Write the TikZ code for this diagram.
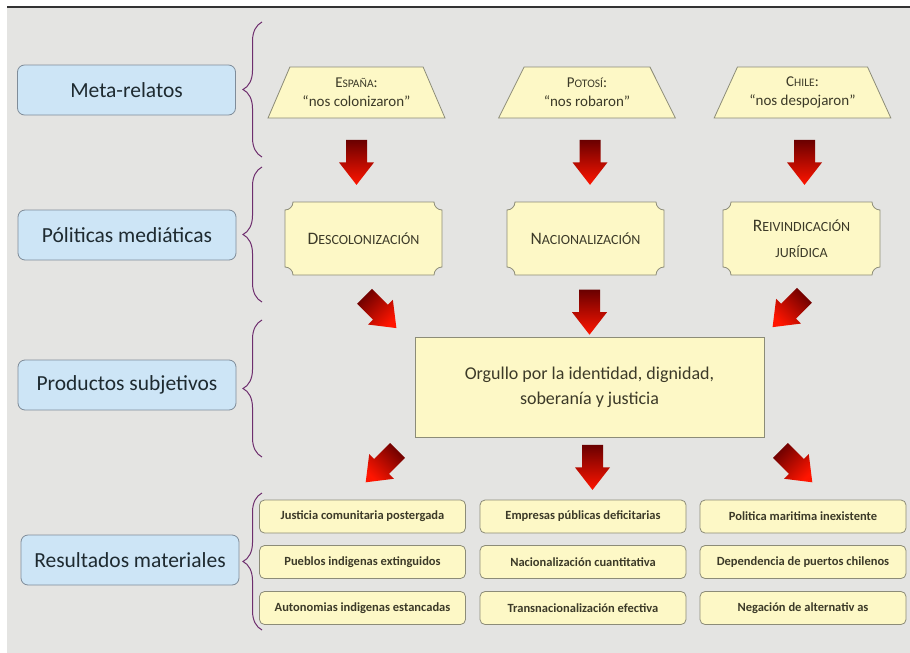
\documentclass[tikz,border=0pt]{standalone}
\usepackage{fontspec}
\setmainfont{Carlito}
\usetikzlibrary{arrows.meta,positioning,calc}
\usetikzlibrary{shapes.geometric}
\usetikzlibrary{decorations.pathreplacing}

\definecolor{bggray}{HTML}{E4E4E2}
\definecolor{labelblue}{HTML}{CDE5F6}
\definecolor{labeledge}{HTML}{7F8C99}
\definecolor{boxcream}{HTML}{FDF8C6}
\definecolor{boxedge}{HTML}{8C8C78}
\definecolor{bracepurple}{HTML}{6E2E6E}
\definecolor{arrowdark}{HTML}{6A0000}
\definecolor{arrowred}{HTML}{FF1500}
\definecolor{textdark}{HTML}{1E2A30}
\definecolor{textolive}{HTML}{3C3A28}

% small caps made by hand: first letter, then smaller capitals
\newcommand{\smcaps}[3][11.5]{#2{\fontsize{#1}{#1}\selectfont #3}}

\begin{document}
\begin{tikzpicture}[x=1pt, y=-1pt,
    levelbox/.style={draw=labeledge, fill=labelblue, rounded corners=7pt, line width=0.8pt,
        minimum width=218pt, minimum height=50pt, font=\fontsize{21.5}{24}\selectfont, text=textdark},
    claimbox/.style={trapezium, trapezium stretches=true, trapezium left angle=62,
        trapezium right angle=62, draw=boxedge, fill=boxcream, line width=0.8pt,
        minimum width=177pt, minimum height=51pt, align=center,
        font=\fontsize{15}{19}\selectfont, text=textolive},
    plaquetext/.style={minimum width=157pt, minimum height=73pt, align=center,
        font=\fontsize{17.5}{26}\selectfont, text=textolive},
    pridebox/.style={draw=boxedge, fill=boxcream, line width=0.8pt, minimum width=349pt,
        minimum height=100pt, align=center, font=\fontsize{18}{25}\selectfont, text=textolive},
    resultbox/.style={draw=boxedge, fill=boxcream, rounded corners=5pt, line width=0.8pt,
        minimum width=206pt, minimum height=33pt, font=\bfseries\fontsize{12.5}{14}\selectfont,
        text=textolive},
    bracket/.style={draw=bracepurple, line width=1pt, decorate,
        decoration={brace, amplitude=19pt}}
]

% Canvas
\useasboundingbox (0,0) rectangle (910,653);
\fill[white] (0,0) rectangle (910,653);
\fill[bggray] (7,8) rectangle (910,653);
\draw[line width=1.5pt, black!80] (7,7) -- (910,7);

% Macro: plaque with concave corners
\newcommand{\plaque}[4]{
\begin{scope}[shift={(#2,#3)}]
    \filldraw[draw=boxedge, fill=boxcream, line width=0.8pt]
        (-70.5,-36.5) -- (70.5,-36.5) .. controls (70.5,-32.1) and (74.1,-28.5) .. (78.5,-28.5)
        -- (78.5,28.5) .. controls (74.1,28.5) and (70.5,32.1) .. (70.5,36.5)
        -- (-70.5,36.5) .. controls (-70.5,32.1) and (-74.1,28.5) .. (-78.5,28.5)
        -- (-78.5,-28.5) .. controls (-74.1,-28.5) and (-70.5,-32.1) .. cycle;
\end{scope}
\node[plaquetext] (#1) at (#2,#3) {#4};
}

% Macro: shaded block arrow (position, rotation)
\newcommand{\flecha}[2]{
\begin{scope}[shift={#1}, rotate=#2]
    \shade[top color=arrowdark, bottom color=arrowred, shading angle=#2]
        (-10.5,-22.5) -- (10.5,-22.5) -- (10.5,0) -- (17.5,0) -- (0,22.5)
        -- (-17.5,0) -- (-10.5,0) -- cycle;
\end{scope}
}

% Levels on the left
\node[levelbox] (meta) at (126.5,90) {Meta-relatos};
\node[levelbox] (pol) at (127,235) {Póliticas mediáticas};
\node[levelbox] (prod) at (127,385) {Productos subjetivos};
\node[levelbox] (res) at (130,560) {Resultados materiales};

% Braces
\foreach \ya/\yb in {22/157, 167/302, 320/457, 493/630}
    \draw[bracket] (262,\yb) -- (262,\ya);

% Meta-relatos
\node[claimbox] (esp) at (356.5,92.5) {\smcaps{E}{SPAÑA}:\\“nos colonizaron”};
\node[claimbox] (pot) at (587,92.5) {\smcaps{P}{OTOSÍ}:\\“nos robaron”};
\node[claimbox] (chi) at (802.5,92.5) {\smcaps{C}{HILE}:\\“nos despojaron”};

% Politicas
\plaque{desc}{363.5}{238.5}{\smcaps[14]{D}{ESCOLONIZACIÓN}}
\plaque{nac}{585.5}{238.5}{\smcaps[14]{N}{ACIONALIZACIÓN}}
\plaque{rei}{801.5}{238.5}{\smcaps[14]{R}{EIVINDICACIÓN}\\\smcaps[14]{}{JURÍDICA}}

% Producto subjetivo
\node[pridebox] (pride) at (589.5,387) {Orgullo por la identidad, dignidad,\\soberanía y justicia};

% Resultados
\foreach \nm/\cx/\cy/\txt in {
    jus/362.5/516.5/Justicia comunitaria postergada,
    pue/362.5/562/Pueblos indigenas extinguidos,
    aut/362.5/608/Autonomias indigenas estancadas,
    emp/583/516.5/Empresas públicas deficitarias,
    cua/583/562/Nacionalización cuantitativa,
    tra/583/608/Transnacionalización efectiva,
    mar/803/516.5/Politica maritima inexistente,
    dep/803/562/Dependencia de puertos chilenos,
    neg/803/608/Negación de alternativ as}
    \node[resultbox] (\nm) at (\cx,\cy) {\txt};

% Arrows
\flecha{($(esp.south)+(0,44)$)}{0}
\flecha{($(pot.south)+(3,44)$)}{0}
\flecha{($(chi.south)+(2,44)$)}{0}
\flecha{($(desc.south)+(17,37)$)}{45}
\flecha{($(nac.south)+(4,37)$)}{0}
\flecha{($(rei.south)+(-13,36)$)}{-45}
\flecha{($(pride.south west)+(-33,29)$)}{-45}
\flecha{($(pride.south)+(3,30)$)}{0}
\flecha{($(pride.south east)+(32,29)$)}{45}

\end{tikzpicture}
\end{document}
